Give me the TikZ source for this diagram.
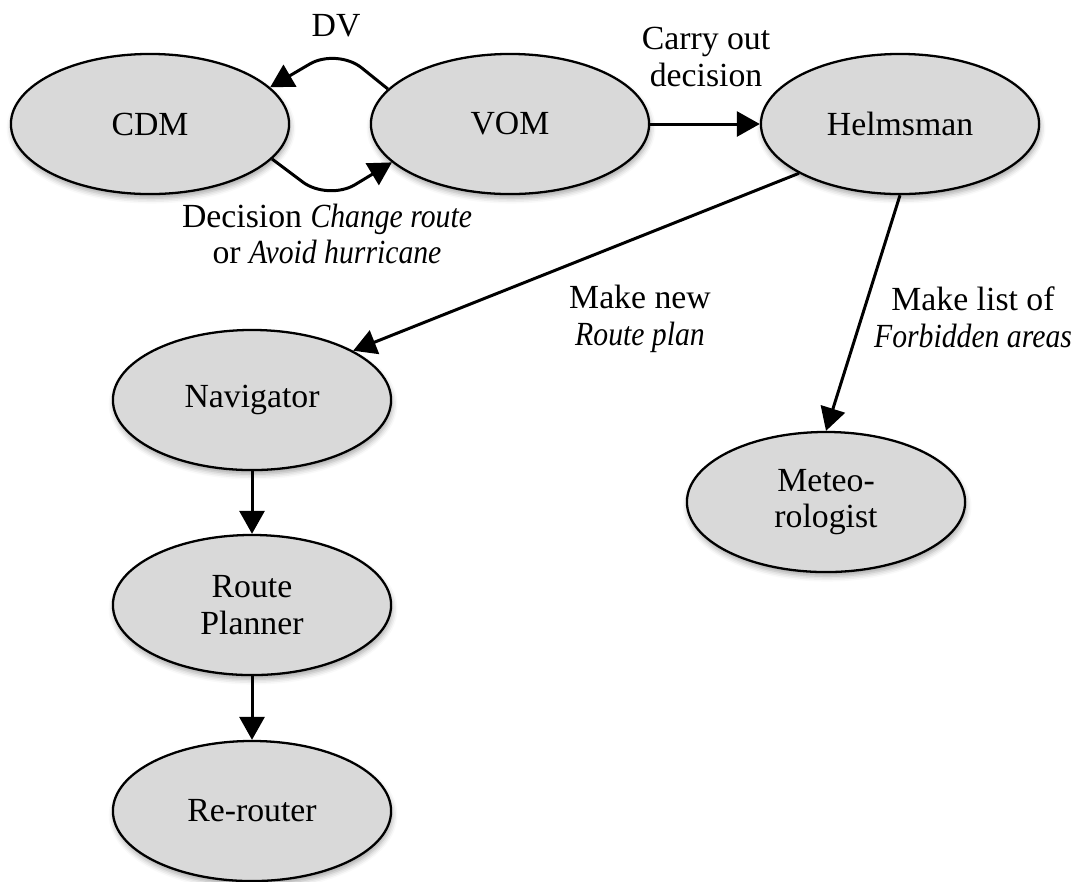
\documentclass[tikz,border=0pt]{standalone}
\usepackage{fontspec}
\setmainfont[ItalicFeatures={FakeStretch=0.88}]{Liberation Serif}
\usetikzlibrary{arrows.meta,shapes.geometric,shadows.blur}
\definecolor{nodegray}{RGB}{217,217,217}
\begin{document}
\begin{tikzpicture}[x=0.01cm,y=-0.01cm,
  txt/.style={font=\fontsize{9.6}{10.45}\selectfont},
  role/.style={ellipse,draw=black,line width=0.65pt,fill=nodegray,
    minimum width=2.78cm,minimum height=1.40cm,inner sep=0pt,align=center,txt,
    blur shadow={shadow xshift=0.3pt,shadow yshift=-1.2pt,shadow blur radius=1.5pt,shadow opacity=35}},
  flow/.style={line width=0.85pt,-{Triangle[length=0.23cm,width=0.25cm]}},
  lbl/.style={align=center,txt,inner sep=0pt}]
\useasboundingbox (0,0) rectangle (1077,881);

% roles
\node[role] (cdm)  at (150,124) {CDM};
\node[role] (vom)  at (510,124) {VOM};
\node[role] (helm) at (900,124) {Helmsman};
\node[role] (nav)  at (252,400) {Navigator};
\node[role] (met)  at (826,502) {Meteo-\\rologist};
\node[role] (rp)   at (252,605) {Route\\Planner};
\node[role] (rr)   at (252,811) {Re-router};

% connectors
\draw[flow, rounded corners=9pt] (vom.164) -- (337,48) -- (cdm.17);
\draw[flow, rounded corners=9pt] (cdm.-16) -- (328,201) -- (vom.198);
\draw[flow] (vom.east) -- (helm.west);
\draw[flow] (helm.206) -- (nav.26);
\draw[flow] (helm.south) -- (met.north);
\draw[flow] (nav.south) -- (rp.north);
\draw[flow] (rp.south) -- (rr.north);

% connector labels
\node[lbl] (dv)     at (336,26)  {DV};
\node[lbl] (carry)  at (706,57)  {Carry out\\decision};
\node[lbl] (dec)    at (327,234) {Decision \textit{Change route}\\or \textit{Avoid hurricane}};
\node[lbl] (mknew)  at (640,319) {Make new\\\textit{Route plan}};
\node[lbl] (mklist) at (973,317) {Make list of\\\textit{Forbidden areas}};
\end{tikzpicture}
\end{document}
